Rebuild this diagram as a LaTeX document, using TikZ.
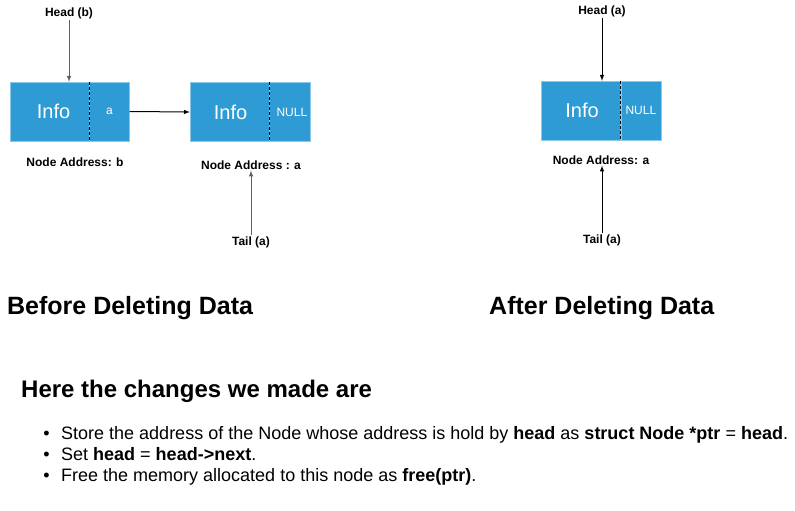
\documentclass[tikz,border=0pt]{standalone}
\usepackage{fontspec}
\setmainfont{Liberation Sans}
\usetikzlibrary{positioning}
\definecolor{nodeblue}{HTML}{2E9BD4}
\definecolor{nodeline}{HTML}{8CC8EC}
\definecolor{arrowgray}{HTML}{606060}

\begin{document}
\begin{tikzpicture}[x = 1pt, y = -1pt,
  info/.style = {fill = nodeblue, draw = nodeline, shape = rectangle, minimum width = 79pt, minimum height = 59pt, inner sep = 0pt, text = white, font = \fontsize{20}{24}\selectfont},
  ptr/.style = {fill = nodeblue, draw = nodeline, shape = rectangle, minimum width = 40pt, minimum height = 59pt, inner sep = 0pt, text = white, font = \fontsize{12}{14}\selectfont},
  lbl/.style = {font = \bfseries\fontsize{12}{14}\selectfont, inner sep = 1pt},
  title/.style = {font = \bfseries\fontsize{25}{30}\selectfont, anchor = west, inner sep = 0pt},
  item/.style = {font = \fontsize{18}{21}\selectfont, anchor = base west, inner sep = 0pt},
  link/.style = {-latex, line width = 1pt}]
\useasboundingbox (0,0) rectangle (795,511);

% before deleting
\node[info] (b1) at (49.5,111.5) {\hspace*{8pt}Info};
\node[ptr, right = 0pt of b1] (b2) {a};
\node[info] (a1) at (229.5,112) {\hspace*{2pt}Info};
\node[ptr, right = 0pt of a1, minimum width = 41pt] (a2) {\hspace*{4pt}NULL};
\draw[densely dashed, line width = 0.8pt] (b2.north west) -- (b2.south west);
\draw[densely dashed, line width = 0.8pt] (a2.north west) -- (a2.south west);
\draw[link] (b2.east) -- (a1.west);

\node[lbl] (hb) at (69,13) {Head (b)};
\draw[link, arrowgray] (hb.south) -- (hb.south |- b1.north);
\node[lbl] (nb) at (75,162) {Node Address: b};
\node[lbl] (na) at (251,165) {Node Address : a};
\node[lbl] (ta) at (251,242) {Tail (a)};
\draw[link, arrowgray] (ta.north) -- (ta.north |- na.south);

% after deleting
\node[info] (c1) at (581,110.5) {\hspace*{2pt}Info};
\node[ptr, right = 0pt of c1] (c2) {NULL};
\draw[densely dashed, line width = 0.8pt] (c2.north west) -- (c2.south west);
\node[lbl] (hc) at (602,11) {Head (a)};
\draw[link] (hc.south) -- (hc.south |- c1.north);
\node[lbl] (nc) at (601,160) {Node Address: a};
\node[lbl] (tc) at (602,240) {Tail (a)};
\draw[link] (tc.north) -- (tc.north |- nc.south);

\node[title] (t1) at (7,308) {Before Deleting Data};
\node[title] (t2) at (489,308) {After Deleting Data};

% changes
\node[title, font = \bfseries\fontsize{24}{28}\selectfont] (h) at (21,391) {Here the changes we made are};
\node[item] (i1) at (61,439) {Store the address of the Node whose address is hold by \textbf{head} as \textbf{struct Node *ptr} = \textbf{head}.};
\node[item] (i2) at (61,460) {Set \textbf{head} = \textbf{head->next}.};
\node[item] (i3) at (61,481) {Free the memory allocated to this node as \textbf{free(ptr)}.};
\node[item, anchor = base east] at ([xshift = -11pt]i1.base west) {\textbullet};
\node[item, anchor = base east] at ([xshift = -11pt]i2.base west) {\textbullet};
\node[item, anchor = base east] at ([xshift = -11pt]i3.base west) {\textbullet};
\end{tikzpicture}
\end{document}
